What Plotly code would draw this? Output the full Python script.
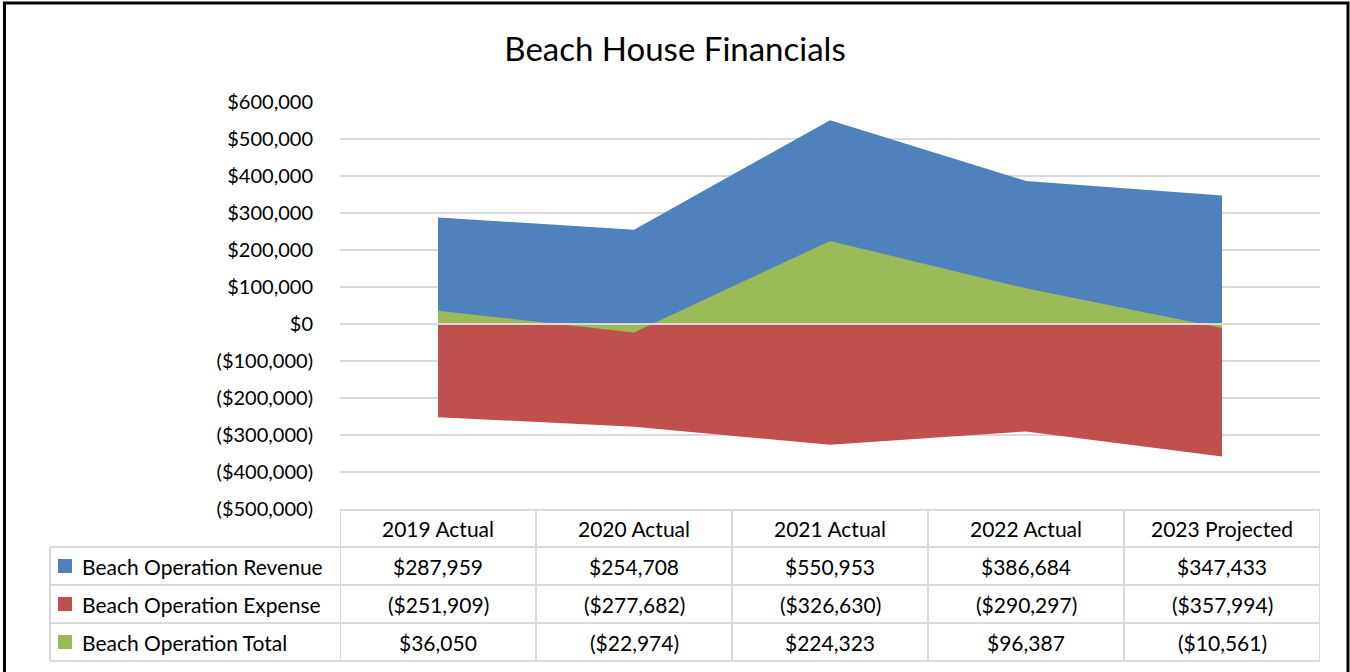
import plotly.graph_objects as go

categories = ["2019 Actual", "2020 Actual", "2021 Actual", "2022 Actual", "2023 Projected"]
revenue = [287959, 254708, 550953, 386684, 347433]
expense = [-251909, -277682, -326630, -290297, -357994]
total = [36050, -22974, 224323, 96387, -10561]
series_names = ["Beach Operation Revenue", "Beach Operation Expense", "Beach Operation Total"]
series_values = [revenue, expense, total]
series_colors = ["#4F81BD", "#C0504D", "#9BBB59"]
tick_values = [600000, 500000, 400000, 300000, 200000, 100000, 0,
               -100000, -200000, -300000, -400000, -500000]

FONT = "Lato"
GRID = "#D9D9D9"
TXT = 21


def money(v):
    s = "${:,.0f}".format(abs(v))
    return "(" + s + ")" if v < 0 else s


xs = list(range(len(categories)))

fig = go.Figure()
for name, vals, col in zip(series_names, series_values, series_colors):
    fig.add_trace(go.Scatter(
        x=xs, y=vals, name=name, mode="lines", line=dict(width=0, color=col),
        fill="tozeroy", fillcolor=col, hoverinfo="x+y+name"))

# pixel helpers (plot area: x 340..1320, y 102..509)
PL, PR, PT, PB = 340, 1320, 102, 509


def py(y):
    return (PB - y) / (PB - PT)


def px(x):
    return (x - PL) / (PR - PL)


shapes = []
# zero line above areas
shapes.append(dict(type="line", xref="x", yref="y", x0=-0.5, x1=len(categories) - 0.5,
                   y0=0, y1=0, line=dict(color=GRID, width=2), layer="above"))

# data table lines
row_edges = [510, 547, 585, 623, 661]
shapes.append(dict(type="line", xref="paper", yref="paper", x0=px(340), x1=px(1320),
                   y0=py(510), y1=py(510), line=dict(color=GRID, width=2)))
for ye in row_edges[1:]:
    shapes.append(dict(type="line", xref="paper", yref="paper", x0=px(50), x1=px(1320),
                       y0=py(ye), y1=py(ye), line=dict(color=GRID, width=2)))
shapes.append(dict(type="line", xref="paper", yref="paper", x0=px(50), x1=px(50),
                   y0=py(547), y1=py(661), line=dict(color=GRID, width=2)))
for i in range(len(categories) + 1):
    shapes.append(dict(type="line", xref="x", yref="paper", x0=i - 0.5, x1=i - 0.5,
                       y0=py(510), y1=py(661), line=dict(color=GRID, width=2)))

annotations = []
for i, c in enumerate(categories):
    annotations.append(dict(x=i, y=py(528), xref="x", yref="paper", text=c, showarrow=False,
                            font=dict(family=FONT, size=TXT, color="#000"),
                            xanchor="center", yanchor="middle"))
row_centers = [566, 604, 642]
for r, (name, vals, col) in enumerate(zip(series_names, series_values, series_colors)):
    yc = row_centers[r]
    shapes.append(dict(type="rect", xref="paper", yref="paper", x0=px(58), x1=px(72),
                       y0=py(yc + 7), y1=py(yc - 7), fillcolor=col, line=dict(width=0)))
    annotations.append(dict(x=px(80), y=py(yc), xref="paper", yref="paper", text=name,
                            showarrow=False, font=dict(family=FONT, size=TXT, color="#000"),
                            xanchor="left", yanchor="middle"))
    for i, v in enumerate(vals):
        annotations.append(dict(x=i, y=py(yc), xref="x", yref="paper", text=money(v),
                                showarrow=False, font=dict(family=FONT, size=TXT, color="#000"),
                                xanchor="center", yanchor="middle"))

# outer border
shapes.append(dict(type="rect", xref="paper", yref="paper", x0=px(4.5), x1=px(1348),
                   y0=py(700), y1=py(3), line=dict(color="#000", width=3)))

fig.update_layout(
    width=1350, height=672,
    margin=dict(l=PL, r=1350 - PR, t=PT, b=672 - PB, autoexpand=False),
    paper_bgcolor="white", plot_bgcolor="white",
    showlegend=False,
    title=dict(text="Beach House Financials", x=0.5, xanchor="center", xref="container",
               y=1 - 49 / 672, yanchor="middle", yref="container",
               font=dict(family=FONT, size=33, color="#000")),
    xaxis=dict(range=[-0.5, len(categories) - 0.5], showticklabels=False, showgrid=False,
               zeroline=False, showline=False, fixedrange=True),
    yaxis=dict(range=[-500000, 600000], tickvals=tick_values,
               ticktext=[money(v) for v in tick_values], showgrid=True, gridcolor=GRID,
               gridwidth=2, zeroline=False, showline=False, ticks="", ticklabelstandoff=26,
               tickfont=dict(family=FONT, size=20, color="#000"), fixedrange=True),
    shapes=shapes, annotations=annotations,
)

fig.write_html("out.html", config={"displayModeBar": False},
               post_script="document.body.style.margin='0';document.body.style.overflow='hidden';")
